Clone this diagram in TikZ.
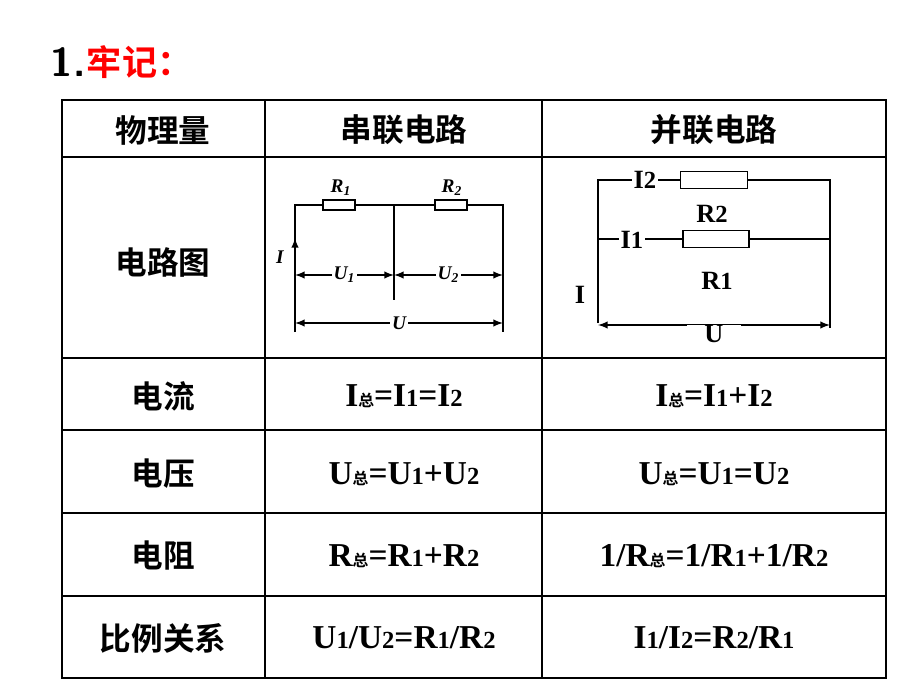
\documentclass[tikz,border=0pt]{standalone}
\usepackage{fontspec}
\setmainfont{Liberation Serif}
\newfontfamily\cjk{Noto Sans CJK SC}[BoldFont=Noto Sans CJK SC Bold]
\usetikzlibrary{arrows}
\newcommand{\zong}{{\cjk\fontsize{9}{9}\selectfont 总}}
\newcommand{\subn}[1]{{\fontsize{14}{14}\selectfont #1}}
\begin{document}
\begin{tikzpicture}[x=0.02cm,y=-0.02cm,line width=0.9pt]
  \tikzstyle{zh}=[font=\cjk\bfseries\fontsize{18}{20}\selectfont]
  \tikzstyle{eq}=[font=\bfseries\fontsize{19}{21}\selectfont]
  \tikzstyle{res}=[draw,line width=1pt,fill=white,inner sep=0pt]
  \tikzstyle{dim}=[<->,>=latex,line width=0.9pt]
  \tikzstyle{sl}=[font=\bfseries\itshape\fontsize{11}{12}\selectfont]
  \tikzstyle{pl}=[font=\bfseries\fontsize{15}{16}\selectfont]
  \useasboundingbox (0,0) rectangle (920,690);
  % title
  \node[anchor=west,font=\sffamily\bfseries\fontsize{23}{24}\selectfont,inner sep=0pt] (num) at (50,62) {1.};
  \node[anchor=west,zh,text=red,inner sep=0pt,font=\cjk\bfseries\fontsize{20}{22}\selectfont] (title) at (num.east) {牢记：};
  % table
  \draw (62,100) rectangle (886,678);
  \foreach \y in {157,358,430,513,596} \draw (62,\y) -- (886,\y);
  \draw (265,100) -- (265,678);
  \draw (542,100) -- (542,678);
  \node[zh] (h1) at (163,130) {物理量};
  \node[zh] (h2) at (404,130) {串联电路};
  \node[zh] (h3) at (714,130) {并联电路};
  \node[zh] (r1) at (163,262) {电路图};
  \node[zh] (r2) at (163,396) {电流};
  \node[zh] (r3) at (163,474) {电压};
  \node[zh] (r4) at (163,556) {电阻};
  \node[zh] (r5) at (163,638) {比例关系};
  \node[eq] (c21) at (404,396) {I\zong=I\subn{1}=I\subn{2}};
  \node[eq] (c22) at (714,396) {I\zong=I\subn{1}+I\subn{2}};
  \node[eq] (c31) at (404,474) {U\zong=U\subn{1}+U\subn{2}};
  \node[eq] (c32) at (714,474) {U\zong=U\subn{1}=U\subn{2}};
  \node[eq] (c41) at (404,556) {R\zong=R\subn{1}+R\subn{2}};
  \node[eq] (c42) at (714,556) {1/R\zong=1/R\subn{1}+1/R\subn{2}};
  \node[eq] (c51) at (404,638) {U\subn{1}/U\subn{2}=R\subn{1}/R\subn{2}};
  \node[eq] (c52) at (714,638) {I\subn{1}/I\subn{2}=R\subn{2}/R\subn{1}};
  % series circuit
  \coordinate (sa) at (295,332);
  \coordinate (sb) at (295,205);
  \coordinate (sm) at (394,205);
  \coordinate (sc) at (503,205);
  \coordinate (sd) at (503,332);
  \draw (sa) -- (sb) -- (sc) -- (sd);
  \draw (sm) -- (394,300);
  \node[res,minimum width=0.64cm,minimum height=0.2cm] (sr1) at (339,205) {};
  \node[res,minimum width=0.64cm,minimum height=0.2cm] (sr2) at (451,205) {};
  \node[sl] (lr1) at (341,188) {R\textsubscript{1}};
  \node[sl] (lr2) at (452,188) {R\textsubscript{2}};
  \draw[->,>=latex] (295,262) -- (295,238);
  \node[sl] (li) at (280,257) {I};
  \draw[dim] (295,275) -- node[fill=white,inner sep=1pt,sl] {U\textsubscript{1}} (394,275);
  \draw[dim] (394,275) -- node[fill=white,inner sep=1pt,sl] {U\textsubscript{2}} (503,275);
  \draw[dim] (295,323) -- node[fill=white,inner sep=1pt,sl] {U} (503,323);
  % parallel circuit
  \coordinate (pa) at (598,323);
  \coordinate (pb) at (598,180);
  \coordinate (pc) at (830,180);
  \coordinate (pd) at (830,328);
  \draw (pa) -- (pb) -- (pc) -- (pd);
  \draw (598,239) -- (830,239);
  \node[res,minimum width=1.34cm,minimum height=0.34cm] (pr2) at (714,180) {};
  \node[res,minimum width=1.32cm,minimum height=0.34cm] (pr1) at (716,239) {};
  \node[fill=white,inner sep=1pt,pl] (li2) at (645,180) {I\subn{2}};
  \node[fill=white,inner sep=1pt,pl] (li1) at (632,240) {I\subn{1}};
  \node[pl] (lpr2) at (712,214) {R\subn{2}};
  \node[pl] (lpr1) at (717,281) {R\subn{1}};
  \node[pl] (lpi) at (580,295) {I};
  \draw[dim] (598,325) -- node[fill=white,inner xsep=10pt,inner ysep=0pt,pl,yshift=-0.18cm] {U} (830,325);
\end{tikzpicture}
\end{document}
